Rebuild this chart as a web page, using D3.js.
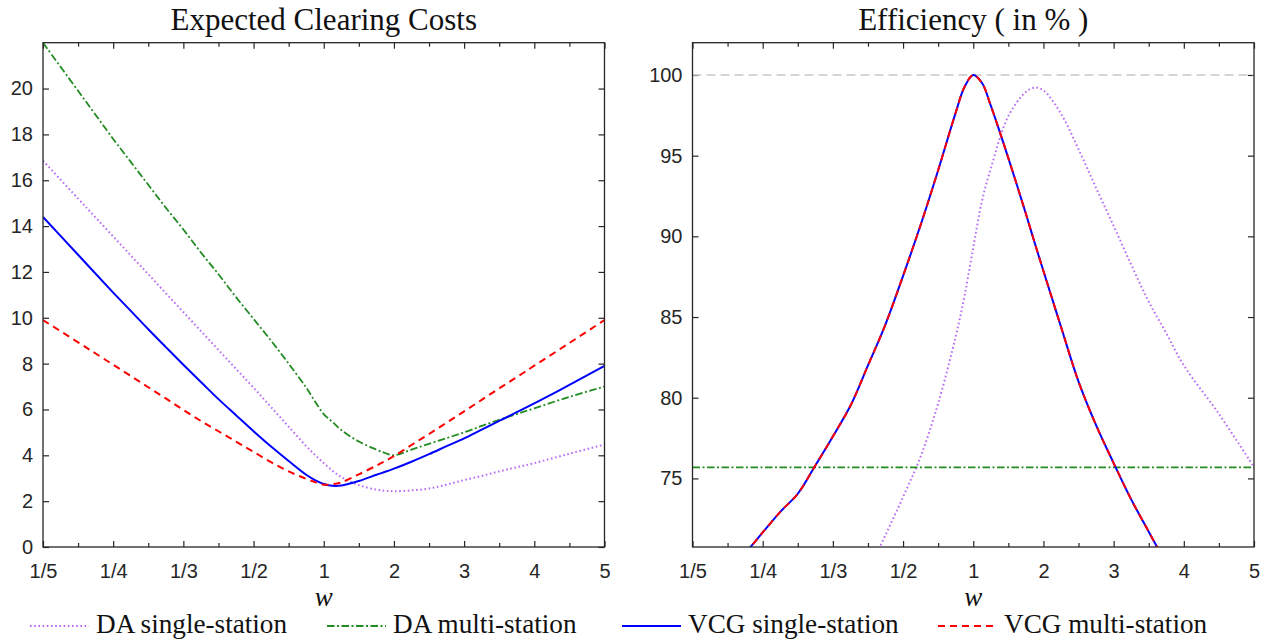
<!DOCTYPE html>
<html><head><meta charset="utf-8">
<script src="https://cdn.jsdelivr.net/npm/d3@7"></script>
<style>body{margin:0;background:#fff} svg{display:block}</style>
</head><body><svg id="c" width="1271" height="641"></svg>
<script>
// ---- data ----
const wGrid = [0.2, 0.2222, 0.2353, 0.25, 0.2667, 0.2857, 0.3077, 0.3333, 0.3636, 0.4, 0.4444, 0.5, 0.5714, 0.6667, 0.8, 0.8889, 1, 1.125, 1.25, 1.5, 1.75, 1.875, 2, 2.25, 2.5, 2.75, 3, 3.25, 3.5, 3.75, 4, 4.5, 5];

const costDASingle = [16.85, 15.2, 14.37, 13.55, 12.72, 11.9, 11.07, 10.25, 9.42, 8.6, 7.77, 6.95, 6.1, 5.25, 4.4, 4.02, 3.66, 3.33, 3.05, 2.7, 2.5, 2.45, 2.43, 2.47, 2.55, 2.72, 2.92, 3.1, 3.3, 3.48, 3.66, 4.07, 4.47];
const costDAMulti = [22.0, 19.9, 18.85, 17.8, 16.8, 15.8, 14.8, 13.85, 12.85, 11.9, 10.9, 9.95, 9.0, 8.0, 6.95, 6.35, 5.8, 5.45, 5.1, 4.6, 4.25, 4.1, 4.0, 4.25, 4.5, 4.75, 5.0, 5.28, 5.55, 5.8, 6.05, 6.55, 7.0];
const costVCGSingle = [14.4, 12.75, 11.92, 11.1, 10.3, 9.5, 8.72, 7.95, 7.2, 6.45, 5.75, 5.05, 4.38, 3.75, 3.15, 2.92, 2.75, 2.67, 2.68, 2.88, 3.15, 3.28, 3.42, 3.72, 4.05, 4.4, 4.74, 5.12, 5.5, 5.88, 6.27, 7.07, 7.9];
const costVCGMulti = [9.9, 8.93, 8.44, 7.95, 7.46, 6.97, 6.48, 5.98, 5.5, 5.05, 4.6, 4.15, 3.7, 3.3, 2.97, 2.83, 2.72, 2.74, 2.82, 3.17, 3.55, 3.75, 3.96, 4.45, 4.93, 5.42, 5.92, 6.42, 6.92, 7.41, 7.91, 8.9, 9.9];

const effDASingle = [null, null, null, null, null, null, null, null, null, 69.2, 71.5, 73.85, 76.35, 79.65, 83.8, 86.3, 89.3, 92.2, 94.2, 97.45, 98.95, 99.22, 99.05, 97.6, 95.4, 93.0, 90.65, 88.25, 85.95, 84.0, 82.0, 79.0, 75.7];
const effDAMultiW = [0.2, 5];
const effDAMulti = [75.68, 75.68];
const effVCGSingle = [null, null, 70.35, 71.65, 72.93, 74.05, 75.8, 77.6, 79.5, 82.0, 84.55, 87.55, 90.7, 94.1, 97.67, 99.25, 100, 99.5, 98.1, 94.85, 91.4, 89.6, 87.85, 84.4, 81.0, 78.3, 75.95, 73.7, 71.7, 69.7, null, null, null];
const effVCGMulti = [null, null, 70.35, 71.65, 72.93, 74.05, 75.8, 77.6, 79.5, 82.0, 84.55, 87.55, 90.7, 94.1, 97.67, 99.25, 100, 99.5, 98.1, 94.85, 91.4, 89.6, 87.85, 84.4, 81.0, 78.3, 75.95, 73.7, 71.7, 69.7, null, null, null];
const effOptimal = 100;

const xTickW = [0.2, 0.25, 0.3333, 0.5, 1, 2, 3, 4, 5];
const xTickLabels = ["1/5", "1/4", "1/3", "1/2", "1", "2", "3", "4", "5"];
const xMinorW = [0.2222, 0.2857, 0.4, 0.6667, 1.5, 2.5, 3.5, 4.5];
const costTicks = [0, 2, 4, 6, 8, 10, 12, 14, 16, 18, 20];
const effTicks = [75, 80, 85, 90, 95, 100];

const legendLabels = ["DA single-station", "DA multi-station", "VCG single-station", "VCG multi-station"];
const titles = ["Expected Clearing Costs", "Efficiency ( in % )"];

// ---- styles ----
const S = {
  daS: {stroke: "#b86bf5", width: 2, dash: "1.6,2.6"},
  daM: {stroke: "#228b22", width: 1.8, dash: "7.5,2.5,2,2.5"},
  vS: {stroke: "#0000ff", width: 2, dash: null},
  vM: {stroke: "#ff0000", width: 2, dash: "7,5"}
};

const svg = d3.select("#c");
const axisColor = "#262626";
const yTop = 42.7, yBottom = 547;
const panels = [
  {x0: 43, x1: 604.5, domain: [0, 22], ticks: costTicks, title: titles[0]},
  {x0: 692.5, x1: 1254, domain: [70.75, 102], ticks: effTicks, title: titles[1]}
];
// position on axis: symmetric reciprocal transform
const pos = w => w >= 1 ? w - 1 : 1 - 1 / w;

panels.forEach((p, i) => {
  const xs = d3.scaleLinear().domain([-4, 4]).range([p.x0, p.x1]);
  const ys = d3.scaleLinear().domain(p.domain).range([yBottom, yTop]);
  p.xs = xs; p.ys = ys;
  const g = svg.append("g");
  const clipId = "clip" + i;
  svg.append("clipPath").attr("id", clipId).append("rect")
    .attr("x", p.x0).attr("y", yTop).attr("width", p.x1 - p.x0).attr("height", yBottom - yTop);

  const tickPos = xTickW.map(pos);
  const lab = d => xTickLabels[tickPos.indexOf(d)];
  const ax = g.append("g").attr("transform", `translate(0,${yBottom})`)
    .call(d3.axisBottom(xs).tickValues(tickPos).tickFormat(lab).tickSizeInner(-6).tickSizeOuter(0).tickPadding(17));
  const axm = g.append("g").attr("transform", `translate(0,${yBottom})`)
    .call(d3.axisBottom(xs).tickValues(xMinorW.map(pos)).tickFormat("").tickSizeInner(-4).tickSizeOuter(0));
  const axt = g.append("g").attr("transform", `translate(0,${yTop})`)
    .call(d3.axisTop(xs).tickValues(tickPos).tickFormat("").tickSizeInner(-6).tickSizeOuter(0));
  const axtm = g.append("g").attr("transform", `translate(0,${yTop})`)
    .call(d3.axisTop(xs).tickValues(xMinorW.map(pos)).tickFormat("").tickSizeInner(-4).tickSizeOuter(0));
  const ay = g.append("g").attr("transform", `translate(${p.x0},0)`)
    .call(d3.axisLeft(ys).tickValues(p.ticks).tickSizeInner(-6).tickSizeOuter(0).tickPadding(10));
  const ayr = g.append("g").attr("transform", `translate(${p.x1},0)`)
    .call(d3.axisRight(ys).tickValues(p.ticks).tickFormat("").tickSizeInner(-6).tickSizeOuter(0));
  [ax, axm, axt, axtm, ay, ayr].forEach(a => {
    a.select(".domain").remove();
    a.selectAll("line").attr("stroke", axisColor).attr("stroke-width", 1.2);
    a.selectAll("text").attr("fill", axisColor).style("font-family", "'Liberation Sans', Arial, sans-serif").style("font-size", "20px");
  });

  p.plot = svg.append("g").attr("clip-path", `url(#${clipId})`);
  p.g = g;

  svg.append("text").attr("x", (p.x0 + p.x1) / 2).attr("y", 29.5).attr("text-anchor", "middle")
    .style("font-family", "'Liberation Serif', 'Times New Roman', serif").style("font-size", "31px").attr("fill", "#111")
    .text(p.title);
  svg.append("text").attr("x", (p.x0 + p.x1) / 2).attr("y", 606).attr("text-anchor", "middle")
    .style("font-family", "'Liberation Serif', 'Times New Roman', serif").style("font-style", "italic").style("font-size", "27px").attr("fill", "#111")
    .text("w");
});

function drawLine(p, ws, vals, st) {
  const data = ws.map((w, i) => ({u: pos(w), v: vals[i]}));
  const line = d3.line().defined(d => d.v != null).x(d => p.xs(d.u)).y(d => p.ys(d.v)).curve(d3.curveCatmullRom.alpha(0.5));
  p.plot.append("path").datum(data).attr("d", line).attr("fill", "none")
    .attr("stroke", st.stroke).attr("stroke-width", st.width)
    .attr("stroke-dasharray", st.dash).attr("stroke-linecap", "butt");
}

const L = panels[0], R = panels[1];
drawLine(L, wGrid, costDASingle, S.daS);
drawLine(L, wGrid, costDAMulti, S.daM);
drawLine(L, wGrid, costVCGSingle, S.vS);
drawLine(L, wGrid, costVCGMulti, S.vM);

drawLine(R, effDAMultiW, [effOptimal, effOptimal], {stroke: "#c8c8c8", width: 1.6, dash: "9,5"});
drawLine(R, wGrid, effDASingle, S.daS);
drawLine(R, effDAMultiW, effDAMulti, S.daM);
drawLine(R, wGrid, effVCGSingle, S.vS);
drawLine(R, wGrid, effVCGMulti, S.vM);

panels.forEach(p => {
  svg.append("rect").attr("x", p.x0).attr("y", yTop).attr("width", p.x1 - p.x0).attr("height", yBottom - yTop)
    .attr("fill", "none").attr("stroke", axisColor).attr("stroke-width", 1.3);
});

const legendX = [30, 327, 622, 938];
const legendStyles = [S.daS, S.daM, S.vS, S.vM];
const lg = svg.append("g");
legendLabels.forEach((t, i) => {
  const x = legendX[i];
  lg.append("line").attr("x1", x).attr("x2", x + 59).attr("y1", 626).attr("y2", 626)
    .attr("stroke", legendStyles[i].stroke).attr("stroke-width", legendStyles[i].width)
    .attr("stroke-dasharray", legendStyles[i].dash);
  lg.append("text").attr("x", x + 66).attr("y", 633)
    .style("font-family", "'Liberation Serif', 'Times New Roman', serif").style("font-size", "27.2px").attr("fill", "#111")
    .text(t);
});
</script>
</body></html>
